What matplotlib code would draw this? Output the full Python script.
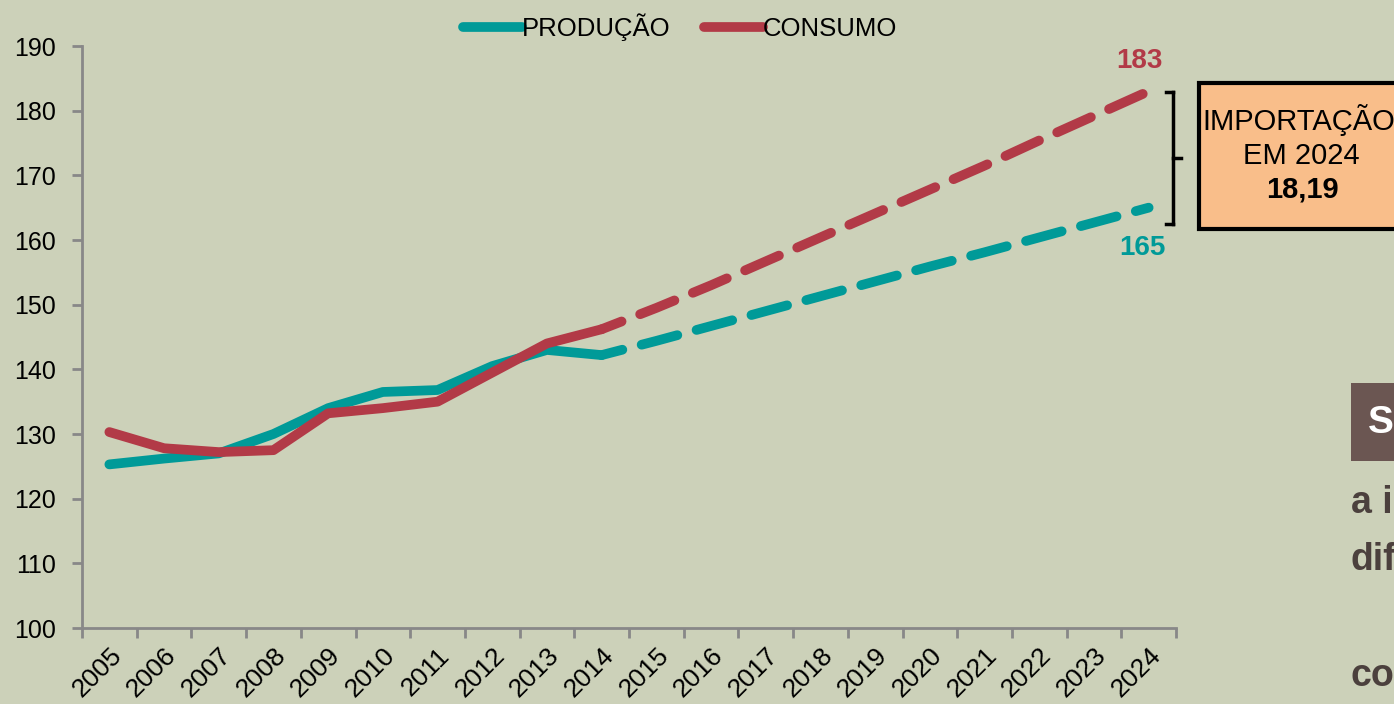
import matplotlib
matplotlib.use("Agg")
import matplotlib.pyplot as plt
from matplotlib.lines import Line2D
from matplotlib.patches import Rectangle

plt.rcParams['font.family'] = ['Liberation Sans', 'DejaVu Sans']

years = [str(y) for y in range(2005, 2025)]
producao_hist = [125.3, 126.2, 127.0, 130.0, 134.0, 136.5, 136.8, 140.5, 143.0, 142.2]
consumo_hist = [130.3, 127.8, 127.2, 127.5, 133.2, 134.0, 135.0, 139.5, 144.0, 146.2]
producao_proj = [142.2, 144.4, 146.7, 149.0, 151.3, 153.6, 155.9, 158.1, 160.4, 162.7, 165.0]
consumo_proj = [146.2, 149.5, 153.0, 156.7, 160.4, 164.1, 167.8, 171.5, 175.4, 179.2, 183.0]
yticks = list(range(100, 191, 10))

bg = '#CCD1B9'
teal = '#009A98'
red = '#B23A47'
W, H = 1394, 704

def fx(px):
    return px / W

def fy(py):
    return 1 - py / H

fig = plt.figure(figsize=(W / 100, H / 100), dpi=100, facecolor=bg)
ax = fig.add_axes([fx(82), fy(628), fx(1176 - 82), (628 - 46) / H])
ax.set_facecolor(bg)

xh = list(range(len(producao_hist)))
xp = list(range(len(producao_hist) - 1, len(years)))
lw = 7
dash = (1.6, (3.8, 2.05))
ax.plot(xh, producao_hist, color=teal, lw=lw, solid_capstyle='round', solid_joinstyle='round')
ax.plot(xh, consumo_hist, color=red, lw=lw, solid_capstyle='round', solid_joinstyle='round')
ax.plot(xp, producao_proj, color=teal, lw=lw, ls=dash, dash_capstyle='round')
ax.plot(xp, consumo_proj, color=red, lw=lw, ls=dash, dash_capstyle='round')

ax.set_xlim(-0.5, len(years) - 0.5)
ax.set_ylim(100, 190)
ax.set_yticks(yticks)
ax.set_yticklabels([str(v) for v in yticks], fontsize=18)
ax.set_xticks(range(len(years)))
ax.set_xticklabels(years, fontsize=19, rotation=45, ha='right', rotation_mode='anchor')
ax.set_xticks([i - 0.5 for i in range(len(years) + 1)], minor=True)
ax.tick_params(axis='x', which='major', length=0, pad=11)
ax.tick_params(axis='x', which='minor', length=7, width=2, color='#888888')
ax.tick_params(axis='y', length=7, width=2, color='#888888', pad=12)
for s in ['top', 'right']:
    ax.spines[s].set_visible(False)
for s in ['left', 'bottom']:
    ax.spines[s].set_color('#888888')
    ax.spines[s].set_linewidth(2)

ax.text(len(years) - 1.17, consumo_proj[-1] + 2.6, str(round(consumo_proj[-1])), color=red,
        fontsize=20, fontweight='bold', ha='center', va='bottom')
ax.text(len(years) - 1.12, producao_proj[-1] - 4.3, str(round(producao_proj[-1])), color=teal,
        fontsize=20, fontweight='bold', ha='center', va='top')

handles = [Line2D([], [], color=teal, lw=lw, solid_capstyle='round'),
           Line2D([], [], color=red, lw=lw, solid_capstyle='round')]
fig.legend(handles, ['PRODUÇÃO', 'CONSUMO'], loc='center', bbox_to_anchor=(fx(680), fy(27)),
           ncol=2, frameon=False, fontsize=18.5, handlelength=2.3, handletextpad=0.0,
           columnspacing=1.3)

# bracket
bx = fx(1173)
fig.add_artist(Line2D([bx, bx], [fy(92), fy(224)], color='black', lw=2.5))
fig.add_artist(Line2D([fx(1166), bx], [fy(92), fy(92)], color='black', lw=2.5))
fig.add_artist(Line2D([fx(1166), bx], [fy(224), fy(224)], color='black', lw=2.5))
fig.add_artist(Line2D([bx, fx(1181)], [fy(158), fy(158)], color='black', lw=2.5))

# import box
fig.add_artist(Rectangle((fx(1199), fy(229)), fx(260), (229 - 83) / H,
                         facecolor='#F9BE8A', edgecolor='black', lw=3))
fig.text(fx(1202), fy(120), 'IMPORTAÇÃO', fontsize=21, ha='left', va='center')
fig.text(fx(1301), fy(156), 'EM 2024', fontsize=21, ha='center', va='center')
fig.text(fx(1302), fy(190), '18,19', fontsize=21, fontweight='bold', ha='center', va='center')

# cut-off side text
fig.add_artist(Rectangle((fx(1351), fy(461)), fx(60), (461 - 383) / H,
                         facecolor='#6B5652', edgecolor='none'))
fig.text(fx(1368), fy(423), 'S', fontsize=28, fontweight='bold', color='white', va='center')
dark = '#4B403D'
fig.text(fx(1351), fy(503), 'a i', fontsize=27, fontweight='bold', color=dark, va='center')
fig.text(fx(1351), fy(560), 'dif', fontsize=27, fontweight='bold', color=dark, va='center')
fig.text(fx(1351), fy(676), 'co', fontsize=27, fontweight='bold', color=dark, va='center')

fig.savefig('out.png', dpi=100, facecolor=bg)
